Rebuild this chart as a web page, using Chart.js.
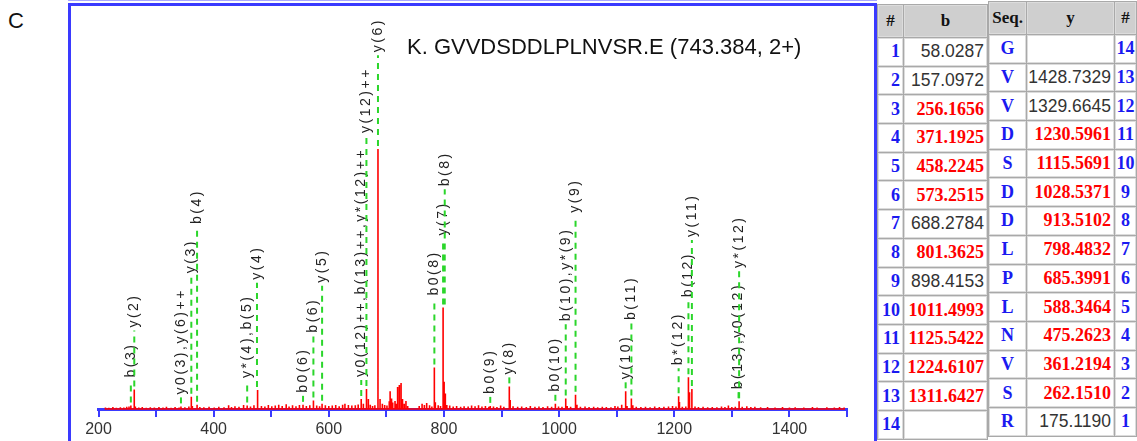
<!DOCTYPE html>
<html>
<head>
<meta charset="utf-8">
<script src="https://cdn.jsdelivr.net/npm/chart.js@4.4.1/dist/chart.umd.min.js"></script>
<style>
  body { margin: 0; width: 1137px; height: 441px; overflow: hidden; background: #fff; position: relative;
         font-family: "Liberation Sans", Arial, sans-serif; }
  #panelTag { position: absolute; left: 8px; top: 8px; font-size: 22px; line-height: 25px; color: #111; }
  #topline { position: absolute; left: 68px; top: 0; width: 809px; height: 1px; background: #a8a8ff; }
  #frame { position: absolute; left: 68px; top: 3px; width: 803px; height: 470px;
           border: 3px solid #3a3aff; border-bottom: none; }
  #chartBox { position: absolute; left: 71px; top: 6px; width: 803px; height: 435px; }
  #title { position: absolute; left: 407px; top: 34px; font-size: 22px; line-height: 25px; color: #111; white-space: nowrap; }
  table.ions { position: absolute; border-collapse: separate; border-spacing: 1px; background: #a9a9a9; }
  table.ions td { border: 1px solid #dcdcdc; padding: 0 2px 0 0; height: 25.7px; background: #fff; white-space: nowrap; }
  table.ions tr.head td { height: 30px; background: #cfcfcf; text-align: center; padding: 0;
           font: bold 17px "Liberation Serif", "Times New Roman", serif; color: #111; }
  td.idx { font: bold 18px "Liberation Serif", "Times New Roman", serif; color: #1a1af0; text-align: right; }
  td.idxR { font: bold 18px "Liberation Serif", "Times New Roman", serif; color: #1a1af0; text-align: center; padding: 0 !important; }
  td.seq { font: bold 18px "Liberation Serif", "Times New Roman", serif; color: #1a1af0; text-align: center; padding: 0 !important; }
  td.mass { text-align: right; font: 17.5px "Liberation Sans", Arial, sans-serif; color: #333; }
  td.mass.hit { font: bold 18px "Liberation Serif", "Times New Roman", serif; color: #f00; }
  #leftTable { left: 877px; top: 4px; }
  #rightTable { left: 988px; top: 1px; }
</style>
</head>
<body>
<div id="panelTag">C</div>
<div id="topline"></div>
<div id="frame"></div>
<div id="chartBox"><canvas id="specChart" width="803" height="435"></canvas></div>
<div id="title">K. GVVDSDDLPLNVSR.E (743.384, 2+)</div>
<table class="ions" id="leftTable"></table>
<table class="ions" id="rightTable"></table>

<script>
// ---- spectrum peaks (m/z, relative intensity %) ----
const peakMz = [
  212, 218, 225, 231, 238, 244, 249, 253, 256.2, 262.1, 264, 270, 276, 283, 290, 297, 305, 312, 318, 326,
  333, 340, 343.2, 350, 357, 361.2, 363, 371.2, 376, 383, 392, 401, 409, 418, 426, 431, 437, 444, 452, 458.2,
  464, 470, 475.3, 477, 483, 489, 495, 501, 507, 513, 519, 526, 531, 537, 543, 549, 555.2, 561, 567, 573.3,
  579, 584, 588.3, 594, 600, 606, 612, 618, 624, 628, 634, 640, 646, 651, 656.3, 660, 664.6, 666, 668.7, 672,
  676, 680, 685.4, 689, 693, 697, 701, 705, 706.5, 709, 711, 715, 717, 719.5, 722.5, 725.5, 728, 731, 734, 737,
  757, 762, 766, 770, 775, 779, 783.3, 785, 790, 794, 798.5, 800.3, 802.4, 805, 810, 816, 822, 829, 835, 842,
  848, 854, 860, 866, 872, 878, 880.4, 886, 892, 898.4, 904, 913.5, 915, 920, 928, 935, 943, 950, 958, 965,
  972, 980, 987, 993.5, 999, 1005, 1011.5, 1014, 1020, 1028.5, 1031, 1037, 1045, 1052, 1060, 1067, 1075, 1082, 1090, 1097,
  1102, 1108.7, 1115.6, 1118, 1125.5, 1128, 1134, 1142, 1150, 1158, 1166, 1174, 1182, 1190, 1197, 1203, 1207.6, 1209, 1214, 1220,
  1224.6, 1226.5, 1230.6, 1236, 1242, 1250, 1258, 1266, 1274, 1282, 1288, 1294, 1300, 1306, 1312.6, 1318, 1326, 1333, 1340, 1350,
  1362, 1375, 1388, 1400, 1410, 1425, 1440, 1448, 1465, 1478, 1487, 1495
];
const peakInt = [
  0.6, 0.5, 0.8, 0.5, 0.7, 0.6, 0.9, 1.0, 1.3, 7.5, 1.0, 0.6, 0.8, 0.5, 0.7, 0.6, 0.8, 0.6, 0.9, 0.5,
  0.8, 0.6, 1.0, 0.7, 1.0, 4.7, 1.2, 1.6, 0.8, 0.7, 0.9, 0.6, 0.9, 0.7, 1.4, 0.8, 1.1, 0.9, 1.5, 1.3,
  1.0, 1.4, 7.3, 1.6, 1.2, 1.0, 1.5, 1.1, 1.3, 1.6, 1.2, 1.8, 1.0, 1.4, 1.1, 1.5, 1.6, 1.2, 1.4, 3.3,
  1.3, 1.1, 2.0, 1.4, 1.2, 1.3, 1.5, 1.1, 1.6, 2.0, 1.5, 1.3, 1.4, 1.7, 3.8, 2.0, 7.7, 3.0, 3.8, 1.6,
  1.2, 1.4, 100, 3.8, 2.0, 1.5, 1.3, 3.0, 6.8, 4.0, 2.5, 3.1, 2.0, 8.5, 9.2, 10.0, 3.8, 2.0, 3.1, 1.2,
  1.2, 2.0, 1.5, 2.3, 1.4, 1.0, 16.0, 2.6, 1.4, 1.2, 39.0, 10.5, 6.0, 1.5, 1.3, 1.0, 1.2, 0.9, 1.1, 1.0,
  1.3, 1.1, 1.4, 1.0, 1.2, 0.9, 1.2, 1.0, 0.8, 1.3, 0.9, 8.7, 3.5, 1.1, 0.9, 1.0, 0.8, 1.2, 0.9, 1.0,
  0.8, 1.1, 0.9, 2.0, 1.0, 0.9, 4.0, 1.2, 0.9, 5.5, 1.6, 0.9, 1.0, 0.8, 0.9, 0.7, 0.9, 0.8, 0.7, 1.2,
  1.0, 1.6, 6.8, 1.2, 4.0, 1.4, 0.9, 0.8, 0.9, 0.7, 1.0, 0.8, 0.9, 1.0, 1.2, 1.0, 4.9, 2.7, 0.9, 1.0,
  12.2, 6.4, 7.7, 1.0, 0.8, 0.9, 0.7, 0.8, 0.7, 1.0, 0.8, 1.3, 0.8, 0.9, 3.0, 0.9, 1.1, 0.8, 0.9, 0.7,
  0.8, 0.6, 0.8, 0.6, 0.7, 0.6, 0.8, 0.6, 0.7, 0.6, 0.8, 0.6
];

// ---- matched fragment ions (annotations) ----
const ionMz = [256.17, 262.15, 343.21, 361.22, 371.19, 458.22, 475.26, 555.24, 573.25, 588.35,
  656.33, 665.34, 685.40, 783.35, 798.48, 801.36, 880.40, 913.51, 993.49, 1011.50,
  1028.54, 1115.57, 1125.54, 1207.58, 1224.61, 1230.60, 1311.64, 1312.63];
const ionLabel = ['b(3)', 'y(2)', 'y0(3),y(6)++', 'y(3)', 'b(4)', 'y*(4),b(5)', 'y(4)', 'b0(6)', 'b(6)', 'y(5)',
  'y0(12)++,b(13)++,y*(12)++', 'y(12)++', 'y(6)', 'b0(8)', 'y(7)', 'b(8)', 'b0(9)', 'y(8)', 'b0(10)', 'b(10),y*(9)',
  'y(9)', 'y(10)', 'b(11)', 'b*(12)', 'b(12)', 'y(11)', 'b(13),y0(12)', 'y*(12)'];

// ---- x axis ----
const xMin = 200, xMax = 1500, xStep = 100;

// ---- fragment table ----
const seqRes = ['G', 'V', 'V', 'D', 'S', 'D', 'D', 'L', 'P', 'L', 'N', 'V', 'S', 'R'];
const bIons = ['58.0287', '157.0972', '256.1656', '371.1925', '458.2245', '573.2515', '688.2784',
  '801.3625', '898.4153', '1011.4993', '1125.5422', '1224.6107', '1311.6427', ''];
const bHit = [0, 0, 1, 1, 1, 1, 0, 1, 0, 1, 1, 1, 1, 0];
const yIons = ['', '1428.7329', '1329.6645', '1230.5961', '1115.5691', '1028.5371', '913.5102',
  '798.4832', '685.3991', '588.3464', '475.2623', '361.2194', '262.1510', '175.1190'];
const yHit = [0, 0, 0, 1, 1, 1, 1, 1, 1, 1, 1, 1, 1, 0];

/* ============ build the table ============ */
function buildTables() {
  const left = document.getElementById('leftTable');
  const right = document.getElementById('rightTable');
  let l = '<tr class="head"><td style="width:23px">#</td><td style="width:81px">b</td></tr>';
  let r = '<tr class="head"><td style="width:39px">Seq.</td><td style="width:85px">y</td><td style="width:20px">#</td></tr>';
  seqRes.forEach((aa, i) => {
    l += `<tr><td class="idx">${i + 1}</td><td class="mass${bHit[i] ? ' hit' : ''}">${bIons[i]}</td></tr>`;
    r += `<tr><td class="seq">${aa}</td><td class="mass${yHit[i] ? ' hit' : ''}">${yIons[i]}</td><td class="idxR">${seqRes.length - i}</td></tr>`;
  });
  left.innerHTML = l;
  right.innerHTML = r;
}
buildTables();

/* ============ ion label plugin ============ */
const ionLabels = {
  id: 'ionLabels',
  afterDatasetsDraw(chart) {
    const { ctx, scales: { x, y } } = chart;
    const base = y.getPixelForValue(0);
    // pixel height of the tallest peak within dx px of px
    const localMax = (px, dx) => {
      let m = 0;
      peakMz.forEach((mz, i) => {
        if (Math.abs(x.getPixelForValue(mz) - px) <= dx) m = Math.max(m, base - y.getPixelForValue(peakInt[i]));
      });
      return m;
    };
    ctx.save();
    ctx.font = '14px "Liberation Sans", Arial, sans-serif';
    if ('letterSpacing' in ctx) ctx.letterSpacing = '2.5px';
    const placed = [];
    ionMz.forEach((mz, i) => {
      const px = x.getPixelForValue(mz);
      const len = ctx.measureText(ionLabel[i]).width;
      let bottom = localMax(px, 10) + 12;
      placed.forEach(p => {
        if (Math.abs(p.px - px) < 18) bottom = Math.max(bottom, p.top + 15);
      });
      placed.push({ px, top: bottom + len });
      const own = localMax(px, 2);

      ctx.strokeStyle = '#2bd62b';
      ctx.lineWidth = 2;
      ctx.setLineDash([6, 5]);
      ctx.beginPath();
      ctx.moveTo(px, base - own - 3);
      ctx.lineTo(px, base - bottom + 3);
      ctx.stroke();
      ctx.setLineDash([]);

      ctx.save();
      ctx.translate(px, base - bottom);
      ctx.rotate(-Math.PI / 2);
      ctx.fillStyle = '#222';
      ctx.textAlign = 'left';
      ctx.textBaseline = 'middle';
      ctx.fillText(ionLabel[i], 0, 0);
      ctx.restore();
    });
    ctx.restore();
  }
};

/* ============ spectrum ============ */
const sticks = [];
peakMz.forEach((mz, i) => {
  sticks.push({ x: mz, y: 0 }, { x: mz, y: peakInt[i] }, { x: mz, y: 0 });
});

new Chart(document.getElementById('specChart'), {
  type: 'line',
  data: {
    datasets: [{
      data: sticks,
      borderColor: '#ff0000',
      borderWidth: 1.6,
      pointRadius: 0,
      tension: 0,
      clip: false
    }]
  },
  options: {
    responsive: false,
    animation: false,
    events: [],
    layout: { padding: { left: 27.5, right: 27, top: 0, bottom: 0 } },
    plugins: { legend: { display: false }, tooltip: { enabled: false } },
    scales: {
      x: {
        type: 'linear',
        min: xMin,
        max: xMax,
        afterFit: (scale) => { scale.height = 32; },
        border: { display: true, color: '#3a3aff', width: 3 },
        grid: { drawOnChartArea: false, drawTicks: true, tickLength: 8, color: '#3a3aff', lineWidth: 2 },
        ticks: {
          stepSize: xStep,
          autoSkip: false,
          maxRotation: 0,
          padding: 3,
          color: '#333',
          font: { family: '"Liberation Sans", Arial, sans-serif', size: 16 },
          callback: (v) => (v % 200 === 0 ? v : '')
        }
      },
      y: { display: false, min: 0, max: 155 }
    }
  },
  plugins: [ionLabels]
});
</script>
</body>
</html>
